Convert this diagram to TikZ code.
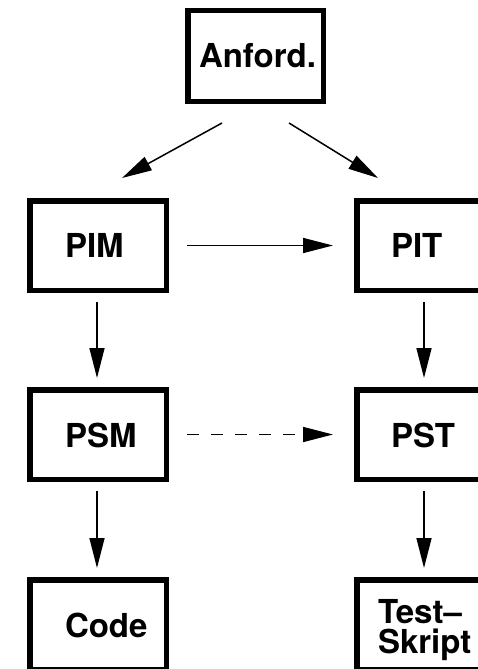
\documentclass[tikz,border=0pt]{standalone}
\usepackage{fontspec}
\setmainfont{TeX Gyre Heros}
\usetikzlibrary{arrows.meta,calc}

\tikzset{
  stage/.style={draw, line width=5.5pt, inner sep=0pt, outer sep=2.75pt,
    minimum width=136.5pt, minimum height=89.5pt},
  lbl/.style={inner sep=0pt, outer sep=0pt, anchor=base west,
    font=\bfseries\fontsize{33}{30}\selectfont},
  flow/.style={line width=1.5pt, -{Triangle[length=30pt,width=15pt]}},
  vflow/.style={flow, shorten <=9pt, shorten >=9pt},
  hflow/.style={flow, shorten <=18pt, shorten >=21pt},
  weak/.style={dash pattern=on 12pt off 12pt}
}

\begin{document}
\begin{tikzpicture}[x=1pt, y=-1pt]
  \useasboundingbox (0,0) rectangle (477,669);

  % boxes
  \node[stage, minimum width=135.5pt, minimum height=90.5pt] (anf) at (255.5,56) {};
  \node[stage] (pim)  at (98,245.5)  {};
  \node[stage] (pit)  at (425,245.5) {};
  \node[stage] (psm)  at (98,434.5)  {};
  \node[stage] (pst)  at (425,434.5) {};
  \node[stage] (code) at (98,624.5)  {};
  \node[stage] (test) at (425,624.5) {};

  % labels
  \node[lbl] (tanf)  at (199,67)  {Anford.};
  \node[lbl] (tpim)  at (65,257)  {PIM};
  \node[lbl] (tpit)  at (391,257) {PIT};
  \node[lbl] (tpsm)  at (65,447)  {PSM};
  \node[lbl] (tpst)  at (391,447) {PST};
  \node[lbl] (tcode) at (65,637)  {Code};
  % two-line label: the base anchor sits on the last line
  \node[lbl, align=left] (ttest) at (378,653) {Test–\\Skript};

  % split from the requirements
  \coordinate (al) at ($(anf.south)+(-33.5,19)$);
  \coordinate (ar) at ($(anf.south)+(33.5,19)$);
  \coordinate (pl) at ($(pim.north)+(24,-20)$);
  \coordinate (pr) at ($(pit.north)+(-47,-20)$);
  \draw[flow] (al) -- (pl);
  \draw[flow] (ar) -- (pr);

  % model and test chains
  \draw[hflow] (pim.east) -- (pit.west);
  \draw[hflow, weak] (psm.east) -- (pst.west);
  \draw[vflow] ([xshift=-1pt]pim.south) -- ([xshift=-1pt]psm.north);
  \draw[vflow] ([xshift=-1pt]psm.south) -- ([xshift=-1pt]code.north);
  \draw[vflow] ([xshift=-1pt]pit.south) -- ([xshift=-1pt]pst.north);
  \draw[vflow] ([xshift=-1pt]pst.south) -- ([xshift=-1pt]test.north);
\end{tikzpicture}
\end{document}
